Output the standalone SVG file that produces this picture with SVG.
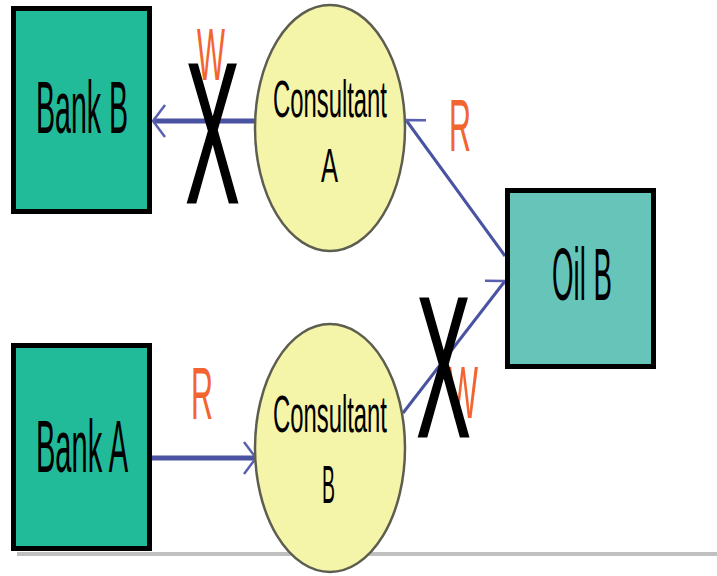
<svg xmlns="http://www.w3.org/2000/svg" width="717" height="576" viewBox="0 0 717 576">
  <style>
    .bank { fill: #22bb99; stroke: #000; stroke-width: 5; }
    .oil { fill: #66c5b8; stroke: #000; stroke-width: 5; }
    .consultant { fill: #f5f5aa; stroke: #5e5e50; stroke-width: 2.5; }
    .label { font-family: "Liberation Sans", Arial, sans-serif; fill: #000; }
    .tag { font-family: "Liberation Sans", Arial, sans-serif; fill: #f26430; }
    .cross { font-family: "Liberation Sans", Arial, sans-serif; fill: #000; stroke: #000; stroke-width: 3; }
    .flow { stroke: #4a52a2; fill: none; }
  </style>
  <defs>
    <marker id="chev" viewBox="-14 -20 16 40" markerWidth="16" markerHeight="40" refX="0" refY="0" orient="auto" markerUnits="userSpaceOnUse">
      <path d="M-12,-16 L0,0 L-12,16" fill="none" stroke="#5a60b0" stroke-width="2.5"/>
    </marker>
  </defs>

  <!-- baseline rule -->
  <rect x="17" y="552" width="700" height="4" fill="#c0c0c0"/>

  <!-- connectors -->
  <g id="connectors">
    <line class="flow" x1="255" y1="121" x2="153" y2="121" stroke-width="5" marker-end="url(#chev)"/>
    <line class="flow" x1="505" y1="256" x2="406" y2="120" stroke-width="3" marker-end="url(#chev)"/>
    <line class="flow" x1="403" y1="413" x2="505" y2="281" stroke-width="3" marker-end="url(#chev)"/>
    <line class="flow" x1="152" y1="458" x2="256" y2="458" stroke-width="5" marker-end="url(#chev)"/>
  </g>

  <g id="bank-b">
    <rect class="bank" x="13.5" y="8.5" width="136" height="203"/>
    <text class="label" x="36" y="133" font-size="74" textLength="92" lengthAdjust="spacingAndGlyphs">Bank B</text>
  </g>

  <g id="consultant-a">
    <ellipse class="consultant" cx="330" cy="128" rx="75" ry="123"/>
    <text class="label" x="273" y="117" font-size="52" textLength="114" lengthAdjust="spacingAndGlyphs">Consultant</text>
    <text class="label" x="321" y="182" font-size="49" textLength="17" lengthAdjust="spacingAndGlyphs">A</text>
  </g>

  <g id="oil-b">
    <rect class="oil" x="507.5" y="190.5" width="146" height="176"/>
    <text class="label" x="552" y="300" font-size="74" textLength="60" lengthAdjust="spacingAndGlyphs">Oil B</text>
  </g>

  <g id="bank-a">
    <rect class="bank" x="13.5" y="345.5" width="136" height="203"/>
    <text class="label" x="36" y="472" font-size="74" textLength="92" lengthAdjust="spacingAndGlyphs">Bank A</text>
  </g>

  <g id="consultant-b">
    <ellipse class="consultant" cx="330" cy="448" rx="75" ry="124"/>
    <text class="label" x="273" y="432" font-size="52" textLength="114" lengthAdjust="spacingAndGlyphs">Consultant</text>
    <text class="label" x="322" y="503" font-size="54" textLength="13" lengthAdjust="spacingAndGlyphs">B</text>
  </g>

  <!-- access labels -->
  <g id="labels">
    <text class="tag" x="197" y="80" font-size="74" textLength="28" lengthAdjust="spacingAndGlyphs">W</text>
    <text class="tag" x="449" y="151" font-size="75" textLength="22" lengthAdjust="spacingAndGlyphs">R</text>
    <text class="tag" x="191" y="419" font-size="75" textLength="22" lengthAdjust="spacingAndGlyphs">R</text>
    <text class="tag" x="448" y="418" font-size="74" textLength="30" lengthAdjust="spacingAndGlyphs">W</text>
  </g>

  <!-- blocked flows -->
  <g id="blocks">
    <text class="cross" x="186" y="202" font-size="198" textLength="53" lengthAdjust="spacingAndGlyphs">X</text>
    <text class="cross" x="417" y="436" font-size="198" textLength="53" lengthAdjust="spacingAndGlyphs">X</text>
  </g>
</svg>
